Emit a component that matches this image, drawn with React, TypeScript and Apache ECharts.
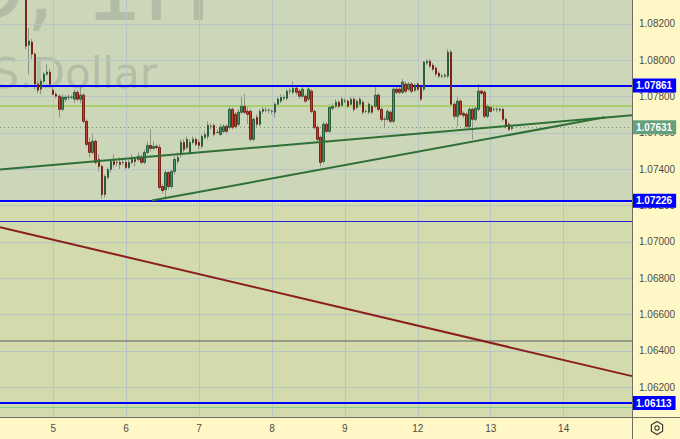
import React, { useEffect, useRef } from 'react';
import * as echarts from 'echarts';

// ---- data -------------------------------------------------------------
const slotCount = 208; // hourly slots across the visible plot
const firstCandle = 8; // slot index of the first visible candle
const dayTicks = [17, 41, 65, 89, 113, 137, 161, 185];
const dayLabels = ['5', '6', '7', '8', '9', '12', '13', '14'];
const priceTicks = [1.062, 1.064, 1.066, 1.068, 1.07, 1.072, 1.074, 1.076, 1.078, 1.08, 1.082];
const yMin = 1.06036;
const yMax = 1.08332;

// [open, close, low, high]
const ohlc: number[][] = [
  [1.08421, 1.08078, 1.08062, 1.08449],
  [1.08084, 1.08106, 1.07924, 1.08178],
  [1.08101, 1.08034, 1.08007, 1.08117],
  [1.08034, 1.07869, 1.07841, 1.08045],
  [1.07869, 1.07835, 1.07819, 1.0788],
  [1.07841, 1.07885, 1.07813, 1.07896],
  [1.07885, 1.07924, 1.07874, 1.07935],
  [1.07924, 1.07935, 1.07913, 1.07979],
  [1.07935, 1.07869, 1.07852, 1.07951],
  [1.07835, 1.07813, 1.07808, 1.07852],
  [1.07813, 1.07802, 1.07791, 1.07824],
  [1.07802, 1.0773, 1.07686, 1.07813],
  [1.0773, 1.07797, 1.07719, 1.07813],
  [1.07786, 1.07797, 1.07769, 1.07808],
  [1.07797, 1.07797, 1.0778, 1.07813],
  [1.07797, 1.07797, 1.07786, 1.07808],
  [1.07786, 1.07824, 1.07764, 1.07841],
  [1.07824, 1.07786, 1.07775, 1.07835],
  [1.07786, 1.07808, 1.07764, 1.07863],
  [1.07808, 1.07664, 1.07653, 1.07819],
  [1.07664, 1.07537, 1.07526, 1.07675],
  [1.07548, 1.07493, 1.07465, 1.07576],
  [1.07493, 1.07554, 1.07482, 1.07592],
  [1.07554, 1.07438, 1.07427, 1.07565],
  [1.07454, 1.07416, 1.07388, 1.07482],
  [1.07416, 1.07261, 1.07239, 1.07427],
  [1.07261, 1.0736, 1.07244, 1.07371],
  [1.07355, 1.07399, 1.07344, 1.0741],
  [1.07399, 1.07443, 1.07382, 1.07454],
  [1.07443, 1.07427, 1.0741, 1.07482],
  [1.07438, 1.07438, 1.07416, 1.07454],
  [1.07438, 1.07427, 1.07399, 1.07465],
  [1.07438, 1.07438, 1.07421, 1.07454],
  [1.07438, 1.0741, 1.07399, 1.07454],
  [1.0741, 1.07438, 1.07399, 1.07454],
  [1.07438, 1.07454, 1.07427, 1.07482],
  [1.07454, 1.07443, 1.07416, 1.07471],
  [1.07454, 1.07471, 1.07443, 1.07493],
  [1.07465, 1.07438, 1.07427, 1.07482],
  [1.07438, 1.07493, 1.07427, 1.07509],
  [1.07493, 1.07531, 1.07482, 1.07554],
  [1.07531, 1.07515, 1.07498, 1.0762],
  [1.07515, 1.07526, 1.07509, 1.07554],
  [1.07526, 1.0752, 1.07509, 1.07537],
  [1.0752, 1.073, 1.07288, 1.07537],
  [1.07305, 1.07283, 1.07266, 1.07322],
  [1.07288, 1.07382, 1.07233, 1.07399],
  [1.07382, 1.07305, 1.07288, 1.07388],
  [1.07305, 1.07388, 1.07294, 1.07399],
  [1.07388, 1.07454, 1.07371, 1.07471],
  [1.07443, 1.07465, 1.07427, 1.07493],
  [1.07482, 1.07548, 1.07465, 1.07565],
  [1.07548, 1.07509, 1.07493, 1.07565],
  [1.0752, 1.07565, 1.07509, 1.07581],
  [1.07493, 1.07548, 1.07482, 1.07565],
  [1.07548, 1.07565, 1.07537, 1.07581],
  [1.07565, 1.07537, 1.07526, 1.07576],
  [1.07548, 1.07531, 1.07509, 1.07565],
  [1.07526, 1.07581, 1.07515, 1.07592],
  [1.07576, 1.07592, 1.07565, 1.07609],
  [1.07581, 1.07642, 1.07565, 1.07664],
  [1.07636, 1.07636, 1.0762, 1.07653],
  [1.07642, 1.07592, 1.07581, 1.07653],
  [1.07603, 1.07603, 1.07592, 1.0762],
  [1.07592, 1.07631, 1.07581, 1.07648],
  [1.07609, 1.07636, 1.07598, 1.07648],
  [1.07636, 1.07609, 1.07592, 1.07648],
  [1.07631, 1.0773, 1.0762, 1.07747],
  [1.0773, 1.07631, 1.0762, 1.07741],
  [1.07703, 1.07636, 1.07625, 1.07714],
  [1.07648, 1.07714, 1.07636, 1.0773],
  [1.07714, 1.07747, 1.07703, 1.07797],
  [1.07747, 1.07714, 1.07703, 1.07813],
  [1.07719, 1.07703, 1.07648, 1.07741],
  [1.07719, 1.07565, 1.07554, 1.0773],
  [1.07565, 1.07675, 1.07554, 1.07686],
  [1.07686, 1.07648, 1.07631, 1.07703],
  [1.07648, 1.07719, 1.07636, 1.0773],
  [1.07719, 1.0773, 1.07703, 1.07747],
  [1.07725, 1.07725, 1.07714, 1.07741],
  [1.07725, 1.07725, 1.07708, 1.07736],
  [1.07719, 1.07719, 1.07703, 1.0773],
  [1.07714, 1.07758, 1.07686, 1.07769],
  [1.07758, 1.07786, 1.07741, 1.07797],
  [1.07775, 1.07797, 1.07764, 1.07813],
  [1.07791, 1.07797, 1.0778, 1.07808],
  [1.07791, 1.0783, 1.0778, 1.07841],
  [1.0783, 1.0783, 1.07813, 1.07846],
  [1.07824, 1.07846, 1.07813, 1.07885],
  [1.07846, 1.07824, 1.07808, 1.07863],
  [1.0783, 1.07802, 1.07786, 1.07841],
  [1.07802, 1.07841, 1.07791, 1.07852],
  [1.07802, 1.07775, 1.07764, 1.07813],
  [1.07786, 1.07841, 1.07775, 1.07852],
  [1.0783, 1.07719, 1.07708, 1.07841],
  [1.07719, 1.07631, 1.0762, 1.0773],
  [1.07631, 1.07565, 1.07554, 1.07642],
  [1.07576, 1.07438, 1.07416, 1.07587],
  [1.07443, 1.07648, 1.07432, 1.07664],
  [1.07648, 1.07609, 1.07598, 1.07659],
  [1.07609, 1.07741, 1.07598, 1.07758],
  [1.07736, 1.07747, 1.07725, 1.07764],
  [1.07747, 1.07769, 1.07736, 1.07786],
  [1.07769, 1.07747, 1.07736, 1.0778],
  [1.07752, 1.07786, 1.07741, 1.07797],
  [1.07775, 1.07775, 1.07764, 1.07791],
  [1.07775, 1.07747, 1.07736, 1.07786],
  [1.07758, 1.07786, 1.07747, 1.07802],
  [1.07786, 1.0773, 1.07719, 1.07797],
  [1.07741, 1.07775, 1.0773, 1.07786],
  [1.07758, 1.07786, 1.07747, 1.07797],
  [1.07769, 1.07714, 1.07703, 1.0778],
  [1.07719, 1.07719, 1.07708, 1.0773],
  [1.07714, 1.07758, 1.07703, 1.07769],
  [1.07747, 1.07714, 1.07703, 1.07758],
  [1.07747, 1.07808, 1.07736, 1.07852],
  [1.07808, 1.0773, 1.07719, 1.07819],
  [1.0773, 1.07675, 1.07664, 1.07741],
  [1.07675, 1.07675, 1.07631, 1.07692],
  [1.07675, 1.07719, 1.07664, 1.0773],
  [1.07714, 1.07664, 1.07653, 1.07725],
  [1.07664, 1.07841, 1.07653, 1.07852],
  [1.07841, 1.07824, 1.07813, 1.07863],
  [1.07841, 1.07824, 1.07813, 1.07857],
  [1.07824, 1.0788, 1.07813, 1.07896],
  [1.07869, 1.0783, 1.07819, 1.07885],
  [1.07841, 1.07869, 1.0783, 1.0788],
  [1.07869, 1.0783, 1.07819, 1.0788],
  [1.07835, 1.07863, 1.07824, 1.07874],
  [1.07869, 1.07841, 1.0783, 1.0788],
  [1.07852, 1.07786, 1.07775, 1.07863],
  [1.07841, 1.0799, 1.0783, 1.08001],
  [1.07985, 1.07996, 1.07973, 1.08007],
  [1.07996, 1.07968, 1.07957, 1.08007],
  [1.07973, 1.07951, 1.0794, 1.07985],
  [1.07957, 1.07924, 1.07913, 1.07968],
  [1.07929, 1.07913, 1.07902, 1.0794],
  [1.07913, 1.07913, 1.07902, 1.07924],
  [1.07913, 1.07918, 1.07902, 1.07929],
  [1.07913, 1.08045, 1.07902, 1.08062],
  [1.08045, 1.07758, 1.07747, 1.08056],
  [1.07758, 1.07692, 1.07675, 1.07769],
  [1.07692, 1.07775, 1.07636, 1.07797],
  [1.07775, 1.07703, 1.07692, 1.07786],
  [1.07708, 1.07697, 1.07681, 1.07719],
  [1.07703, 1.07636, 1.0762, 1.07714],
  [1.07636, 1.0773, 1.07625, 1.07741],
  [1.0773, 1.07675, 1.07565, 1.07741],
  [1.07675, 1.07736, 1.07664, 1.07747],
  [1.0773, 1.0783, 1.07719, 1.07869],
  [1.0783, 1.07819, 1.07808, 1.07841],
  [1.07824, 1.07692, 1.07681, 1.07835],
  [1.07692, 1.07747, 1.07681, 1.07758],
  [1.07741, 1.07719, 1.07708, 1.07764],
  [1.0773, 1.0773, 1.07719, 1.07741],
  [1.0773, 1.0773, 1.07714, 1.07741],
  [1.07725, 1.0773, 1.07714, 1.07741],
  [1.0773, 1.07675, 1.07664, 1.07741],
  [1.07675, 1.07636, 1.07625, 1.07686],
  [1.07648, 1.0762, 1.07609, 1.07659],
  [1.07625, 1.07631, 1.07614, 1.07642],
];

const taggedLevels = [1.07861, 1.07226, 1.06113];
const lastPrice = 1.07631;
const limeLevel = 1.07749;
const thinBlueLevel = 1.07113;
const grayLevel = 1.06456;
const thinGreenLevel = 1.06092;
const dottedLevel = 1.07216;
const trendUpper = [[-0.5, 1.07399], [207.5, 1.07697]];
const trendLower = [[49.5, 1.07228], [198.6, 1.07686]];
const trendRed = [[-0.5, 1.07081], [207.5, 1.06261]];

// ---- styles -----------------------------------------------------------
const FONT = '"Liberation Sans", Arial, sans-serif';
const AXIS_TEXT = '#4c4c48';
const GRID_COLOR = '#b7c5c7';
const BLUE = '#0000ff';
const WATERMARK = 'rgba(110,116,108,0.26)';

export default function App() {
  const ref = useRef<HTMLDivElement>(null);

  useEffect(() => {
    if (!ref.current) return;
    const chart = echarts.init(ref.current, undefined, { renderer: 'svg' });

    const slots = Array.from({ length: slotCount }, (_, i) => {
      const k = dayTicks.indexOf(i);
      return k >= 0 ? dayLabels[k] : '';
    });
    const fullData = ohlc.map((d, i) => [firstCandle + i, d[0], d[1], d[2], d[3]]);
    const bodyData = ohlc.map((d, i) => [
      firstCandle + i,
      d[0],
      d[1],
      Math.min(d[0], d[1]),
      Math.max(d[0], d[1]),
    ]);

    const tag = (v: number, bg: string) => ({
      yAxis: v,
      label: {
        show: true,
        position: 'end',
        distance: 0,
        formatter: v.toFixed(5),
        backgroundColor: bg,
        color: '#ffffff',
        fontWeight: 'bold',
        fontSize: 10,
        fontFamily: FONT,
        padding: [2, 4, 2, 4],
      },
    });

    const option: any = {
      animation: false,
      backgroundColor: '#fff8c6',
      grid: {
        left: 0,
        right: 48,
        top: 0,
        bottom: 22,
        show: true,
        backgroundColor: '#d2dab0',
        borderWidth: 0,
      },
      xAxis: [
        {
          type: 'category',
          data: slots,
          boundaryGap: true,
          axisLine: { show: false },
          axisTick: { show: false },
          splitLine: { show: false },
          axisLabel: {
            interval: (i: number) => dayTicks.indexOf(i) >= 0,
            color: AXIS_TEXT,
            fontSize: 10,
            fontFamily: FONT,
            margin: 6,
          },
        },
        { type: 'value', min: -0.5, max: slotCount - 0.5, show: false },
      ],
      yAxis: {
        type: 'value',
        position: 'right',
        min: yMin,
        max: yMax,
        axisLine: { show: false },
        axisTick: { show: false },
        splitLine: { show: false },
        axisLabel: {
          customValues: priceTicks,
          formatter: (v: number) => v.toFixed(5),
          color: AXIS_TEXT,
          fontSize: 10,
          fontFamily: FONT,
          margin: 7,
          align: 'left',
        },
      },
      series: [
        {
          name: 'zones',
          type: 'line',
          xAxisIndex: 1,
          data: [],
          z: 0,
          silent: true,
          markArea: {
            silent: true,
            precision: 5,
            data: [
              [{ yAxis: taggedLevels[1], itemStyle: { color: '#ccd6b8' } }, { yAxis: yMax }],
              [{ yAxis: yMin, itemStyle: { color: '#d3dbac' } }, { yAxis: taggedLevels[1] }],
            ],
          },
        },
        {
          name: 'grid',
          type: 'line',
          xAxisIndex: 1,
          data: [],
          z: 1,
          silent: true,
          markLine: {
            silent: true,
            precision: 5,
            symbol: 'none',
            label: { show: false },
            lineStyle: { color: GRID_COLOR, width: 1, type: 'solid' },
            data: [
              ...priceTicks.map((v) => ({ yAxis: v })),
              ...dayTicks.map((v) => ({ xAxis: v })),
            ],
          },
        },
        {
          name: 'levels',
          type: 'line',
          xAxisIndex: 1,
          data: [],
          z: 3,
          silent: true,
          markLine: {
            silent: true,
            precision: 5,
            symbol: 'none',
            label: { show: false },
            data: [
              { yAxis: limeLevel, lineStyle: { color: '#a9cf6c', width: 2, type: 'solid' } },
              { yAxis: thinBlueLevel, lineStyle: { color: '#2424e0', width: 1, type: 'solid' } },
              { yAxis: grayLevel, lineStyle: { color: '#85877a', width: 1.5, type: 'solid' } },
              { yAxis: thinGreenLevel, lineStyle: { color: '#7fcf8f', width: 1, type: 'solid' } },
              { yAxis: dottedLevel, lineStyle: { color: '#f2f5ea', width: 1, type: [1, 2] } },
              {
                ...tag(lastPrice, '#64a07c'),
                lineStyle: { color: '#7d8c74', width: 1, type: [1, 3] },
              },
              ...taggedLevels.map((v) => ({
                ...tag(v, BLUE),
                lineStyle: { color: BLUE, width: 2, type: 'solid' },
              })),
            ],
          },
        },
        {
          name: 'wicks',
          type: 'candlestick',
          xAxisIndex: 0,
          encode: { x: 0, y: [1, 2, 3, 4] },
          data: fullData,
          barWidth: 1,
          z: 4,
          silent: true,
          itemStyle: {
            color: '#8d9288',
            color0: '#8d9288',
            borderColor: '#8d9288',
            borderColor0: '#8d9288',
            borderWidth: 1,
          },
        },
        {
          name: 'bodies',
          type: 'candlestick',
          xAxisIndex: 0,
          encode: { x: 0, y: [1, 2, 3, 4] },
          data: bodyData,
          barWidth: 2,
          z: 5,
          silent: true,
          itemStyle: {
            color: '#4f9467',
            color0: '#c43d2e',
            borderColor: '#2d5d3c',
            borderColor0: '#7a2417',
            borderWidth: 1,
          },
        },
        {
          name: 'trendUpper',
          type: 'line',
          xAxisIndex: 1,
          data: trendUpper,
          showSymbol: false,
          z: 6,
          silent: true,
          lineStyle: { color: '#2f7038', width: 2 },
        },
        {
          name: 'trendLower',
          type: 'line',
          xAxisIndex: 1,
          data: trendLower,
          showSymbol: false,
          z: 6,
          silent: true,
          lineStyle: { color: '#2f7038', width: 2 },
        },
        {
          name: 'trendRed',
          type: 'line',
          xAxisIndex: 1,
          data: trendRed,
          showSymbol: false,
          z: 6,
          silent: true,
          lineStyle: { color: '#8a1e1e', width: 2 },
        },
      ],
      graphic: [
        {
          type: 'text',
          z: 2,
          silent: true,
          style: {
            text: 'EURUSD, 1H',
            x: 212,
            y: 34,
            textAlign: 'right',
            textVerticalAlign: 'bottom',
            font: '92px "DejaVu Sans", sans-serif',
            fill: WATERMARK,
          },
        },
        {
          type: 'text',
          z: 2,
          silent: true,
          style: {
            text: 'Euro / U.S.Dollar',
            x: 157,
            y: 94,
            textAlign: 'right',
            textVerticalAlign: 'bottom',
            font: '42px "DejaVu Sans", sans-serif',
            fill: WATERMARK,
          },
        },
        {
          type: 'line',
          silent: true,
          z: 10,
          shape: { x1: 0, y1: 417.5, x2: 680, y2: 417.5 },
          style: { stroke: '#6f6f66', lineWidth: 1 },
        },
        {
          type: 'line',
          silent: true,
          z: 10,
          shape: { x1: 632.5, y1: 0, x2: 632.5, y2: 439 },
          style: { stroke: '#6f6f66', lineWidth: 1 },
        },
        {
          type: 'polygon',
          silent: true,
          z: 10,
          shape: {
            points: [
              [657, 421.5],
              [662.6, 424.75],
              [662.6, 431.25],
              [657, 434.5],
              [651.4, 431.25],
              [651.4, 424.75],
            ],
          },
          style: { fill: 'none', stroke: '#3c3c3c', lineWidth: 1.2 },
        },
        {
          type: 'circle',
          silent: true,
          z: 10,
          shape: { cx: 657, cy: 428, r: 2.2 },
          style: { fill: 'none', stroke: '#3c3c3c', lineWidth: 1.2 },
        },
      ],
    };

    chart.setOption(option);
    return () => chart.dispose();
  }, []);

  return (
    <div
      ref={ref}
      style={{ position: 'absolute', left: 0, top: 0, width: 680, height: 439 }}
    />
  );
}
